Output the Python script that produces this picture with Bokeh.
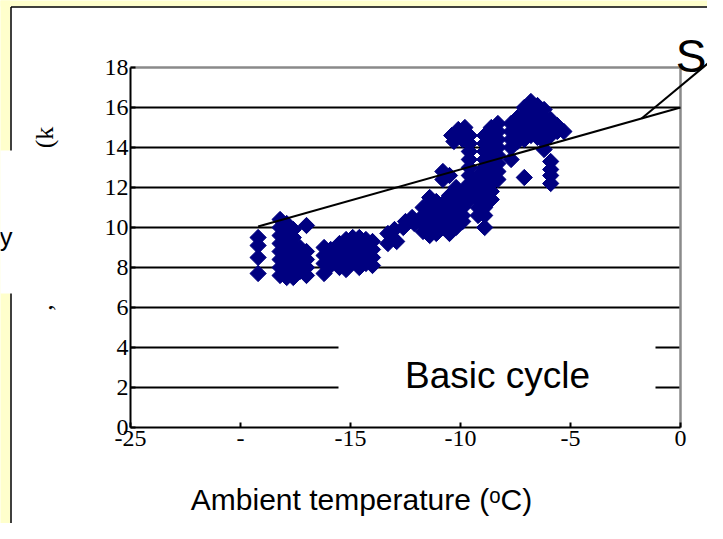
import math
from bokeh.plotting import figure
from bokeh.models import FixedTicker, Label
from bokeh.embed import file_html
from bokeh.resources import INLINE

# ---------------- data ----------------
x_ticks = [-25, -20, -15, -10, -5, 0]
x_tick_labels = ["-25", "-", "-15", "-10", "-5", "0"]
y_ticks = [0, 2, 4, 6, 8, 10, 12, 14, 16, 18]
grid_levels = [2, 4, 6, 8, 10, 12, 14, 16]

# ambient temperature (degC) and measured value for each diamond
temp_c = [
    -19.2, -19.2, -19.2, -19.2,
    -18.2, -18.2, -18.2, -18.2, -18.2, -18.2, -18.2, -18.2,
    -17.9, -17.9, -17.9, -17.9, -17.9, -17.9, -17.9, -17.9,
    -17.6, -17.6, -17.6, -17.6, -17.6, -17.6, -17.6,
    -17.3, -17.3, -17.3, -17.3,
    -17.0, -17.0, -17.0, -17.0, -17.0,
    -16.2, -16.2, -16.2, -16.2,
    -15.9, -15.9, -15.9,
    -15.5, -15.5, -15.5, -15.5,
    -15.2, -15.2, -15.2, -15.2, -15.2,
    -14.9, -14.9, -14.9, -14.9,
    -14.6, -14.6, -14.6, -14.6, -14.6,
    -14.3, -14.3, -14.3, -14.3,
    -14.0, -14.0, -14.0, -14.0,
    -13.3, -13.3, -13.1, -13.0, -12.9, -12.6, -12.5, -12.2, -12.1,
    -11.7, -11.7, -11.7, -11.7,
    -11.4, -11.4, -11.4, -11.4, -11.4, -11.4,
    -11.1, -11.1, -11.1, -11.1, -11.1,
    -10.8, -10.8, -10.8, -10.8, -10.8, -10.8,
    -10.5, -10.5, -10.5, -10.5, -10.5, -10.5, -10.5,
    -10.2, -10.2, -10.2, -10.2, -10.2, -10.2,
    -9.9, -9.9, -9.9, -9.9, -9.9,
    -10.4, -10.1, -9.8, -9.6, -10.3, -9.9,
    -9.6, -9.6, -9.6, -9.6, -9.6, -9.6, -9.6, -9.6,
    -9.2, -9.2, -9.2, -9.2, -9.2, -9.2,
    -8.9, -8.9, -8.9, -8.9, -8.9, -8.9, -8.9, -8.9, -8.9, -8.9, -8.9, -8.9,
    -8.6, -8.6, -8.6, -8.6, -8.6, -8.6, -8.6, -8.6, -8.6, -8.6,
    -8.3, -8.3, -8.3, -8.3, -8.3, -8.3, -8.3, -8.3,
    -7.7, -7.7, -7.7, -7.7, -7.7,
    -7.4, -7.4, -7.4, -7.4,
    -7.1, -7.1, -7.1, -7.1, -7.1, -7.1,
    -6.8, -6.8, -6.8, -6.8, -6.8,
    -6.5, -6.5, -6.5, -6.5, -6.5,
    -6.2, -6.2, -6.2, -6.2, -6.2, -6.2,
    -5.9, -5.9, -5.9, -5.9, -5.9, -5.9, -5.9,
    -5.6, -5.6,
    -5.3,
]
power_kw = [
    9.5, 9.1, 8.5, 7.7,
    10.4, 10.0, 9.6, 9.2, 8.8, 8.4, 8.0, 7.6,
    10.2, 9.8, 9.4, 9.0, 8.6, 8.2, 7.8, 7.5,
    9.9, 9.5, 9.1, 8.7, 8.3, 7.9, 7.5,
    9.0, 8.6, 8.2, 7.8,
    10.1, 8.8, 8.4, 8.0, 7.6,
    9.0, 8.6, 8.2, 7.7,
    8.9, 8.5, 8.1,
    9.2, 8.8, 8.4, 8.0,
    9.4, 9.0, 8.6, 8.2, 7.9,
    9.5, 9.1, 8.7, 8.3,
    9.5, 9.1, 8.7, 8.3, 8.0,
    9.4, 9.0, 8.6, 8.2,
    9.3, 8.9, 8.5, 8.1,
    9.2, 9.7, 9.5, 9.9, 9.3, 10.0, 10.3, 10.5, 10.2,
    11.0, 10.6, 10.2, 9.8,
    11.5, 11.1, 10.7, 10.3, 9.9, 9.6,
    11.3, 10.9, 10.5, 10.1, 9.7,
    12.8, 12.4, 11.2, 10.8, 10.4, 10.0,
    12.6, 11.6, 11.2, 10.8, 10.4, 10.0, 9.7,
    12.0, 11.6, 11.2, 10.8, 10.4, 10.0,
    11.8, 11.4, 11.0, 10.6, 10.3,
    14.6, 14.9, 15.0, 14.6, 14.3, 14.4,
    14.2, 13.8, 13.4, 13.0, 12.6, 12.2, 11.8, 11.4,
    12.6, 12.2, 11.8, 11.4, 11.0, 10.6,
    14.6, 14.2, 13.8, 13.4, 13.0, 12.6, 12.2, 11.8, 11.4, 11.0, 10.6, 10.0,
    15.0, 14.6, 14.2, 13.8, 13.4, 13.0, 12.6, 12.2, 11.8, 11.4,
    15.2, 14.8, 14.4, 14.0, 13.6, 13.2, 12.8, 12.4,
    15.2, 14.8, 14.4, 14.0, 13.4,
    15.5, 15.1, 14.7, 14.3,
    16.0, 15.6, 15.2, 14.8, 14.4, 12.5,
    16.3, 15.8, 15.4, 15.0, 14.6,
    16.1, 15.7, 15.3, 14.9, 14.5,
    15.9, 15.5, 15.1, 14.7, 14.3, 13.9,
    15.4, 15.0, 14.6, 13.3, 12.9, 12.6, 12.2,
    15.1, 14.8,
    14.8,
]

# linear trend line end points
trend_t = [-19.2, 0.0]
trend_kw = [10.05, 16.0]

# callout from the trend line towards the "S" label
callout_t = [-1.77, 1.95]
callout_kw = [15.45, 18.85]

# ---------------- figure ----------------
W, H = 707, 523
PX_PER_C = 22.0
PX_PER_KW = 20.0
X0_PX, Y0_PX = 130.0, 427.0   # canvas pixel of the point (-25, 0)


def tx(px):
    """canvas x pixel -> temperature coordinate"""
    return -25 + (px - X0_PX) / PX_PER_C


def ty(py):
    """canvas y pixel (from top) -> value coordinate"""
    return (Y0_PX - py) / PX_PER_KW


x_start, x_end = tx(0), tx(W)
y_start, y_end = ty(H), ty(0)

p = figure(width=W, height=H, x_range=(x_start, x_end), y_range=(y_start, y_end),
           output_backend="svg", toolbar_location=None, min_border=0,
           background_fill_color="white", border_fill_color="white",
           outline_line_color=None)
p.xgrid.visible = False
p.ygrid.visible = False

# yellow page strips (left and top) with their black border
p.quad(left=[tx(-5)], right=[tx(10)], bottom=[ty(H + 5)], top=[ty(-5)],
       fill_color="#FFFFCC", line_color=None)
p.quad(left=[tx(-5)], right=[tx(W + 5)], bottom=[ty(6)], top=[ty(-5)],
       fill_color="#FFFFCC", line_color=None)
p.segment(x0=[tx(10.5), tx(10.5)], x1=[tx(10.5), tx(W + 5)],
          y0=[ty(6.5), ty(6.5)], y1=[ty(H + 5), ty(6.5)],
          line_color="black", line_width=1.5)
# white box on the left, covering the border
p.quad(left=[tx(-5)], right=[tx(42)], bottom=[ty(293)], top=[ty(150)],
       fill_color="white", line_color=None)
p.add_layout(Label(x=tx(-1), y=ty(236), text="y", text_font="Liberation Sans",
                   text_font_size="26px", text_align="left", text_baseline="alphabetic",
                   text_color="black"))

# horizontal grid lines
p.segment(x0=[-25] * len(grid_levels), x1=[0] * len(grid_levels), y0=grid_levels, y1=grid_levels,
          line_color="black", line_width=2)
# top and right frame (grey)
p.segment(x0=[-25, 0], x1=[0, 0], y0=[18, 0], y1=[18, 18], line_color="#8a8a8a", line_width=2.5)

# white label box "Basic cycle"
p.quad(left=[tx(338)], right=[tx(655)], bottom=[ty(401)], top=[ty(322)],
       fill_color="white", line_color=None)
p.add_layout(Label(x=tx(497), y=ty(375), text="Basic cycle", text_font="Liberation Sans",
                   text_font_size="37px", text_align="center", text_baseline="alphabetic",
                   text_color="black"))

# data
p.scatter(temp_c, power_kw, marker="square", size=11.5, angle=math.pi / 4,
          fill_color="#000080", line_color="#000080")
p.line(trend_t, trend_kw, line_color="black", line_width=2)
p.line(callout_t, callout_kw, line_color="black", line_width=2)

p.add_layout(Label(x=tx(706), y=ty(55), text="S", text_font="Liberation Sans", text_font_size="46px",
                   text_align="right", text_baseline="alphabetic", text_color="black"))

# fragments of the (covered) y label
p.add_layout(Label(x=tx(44), y=ty(137), text="(k", text_font="Liberation Serif", text_font_size="26px",
                   angle=math.pi / 2, text_align="center", text_baseline="middle",
                   text_color="black"))
p.add_layout(Label(x=tx(43), y=ty(307), text=",", text_font="Liberation Serif", text_font_size="26px",
                   angle=math.pi / 2, text_align="center", text_baseline="middle",
                   text_color="black"))

# x axis title (kept fully inside the canvas)
p.add_layout(Label(x=tx(361), y=ty(499), text="Ambient temperature (\u1d52C)",
                   text_font="Liberation Sans", text_font_size="30px",
                   text_align="center", text_baseline="alphabetic", text_color="black"))

# axes
for ax in (p.xaxis[0], p.yaxis[0]):
    ax.axis_line_color = "black"
    ax.axis_line_width = 2
    ax.major_tick_in = 5
    ax.major_tick_out = 0
    ax.major_tick_line_width = 2
    ax.minor_tick_in = 0
    ax.minor_tick_out = 0
    ax.major_label_text_font = "Liberation Serif"
    ax.major_label_text_font_size = "24px"
    ax.major_label_text_color = "black"

p.xaxis.fixed_location = 0
p.yaxis.fixed_location = -25
p.xaxis.bounds = (-25, 0)
p.yaxis.bounds = (0, 18)
p.xaxis.ticker = FixedTicker(ticks=x_ticks)
p.yaxis.ticker = FixedTicker(ticks=y_ticks)
p.xaxis.major_label_overrides = dict(zip(x_ticks, x_tick_labels))
p.xaxis.major_label_standoff = 3
p.yaxis.major_label_standoff = 2

open("out.html", "w").write(file_html(p, INLINE))
